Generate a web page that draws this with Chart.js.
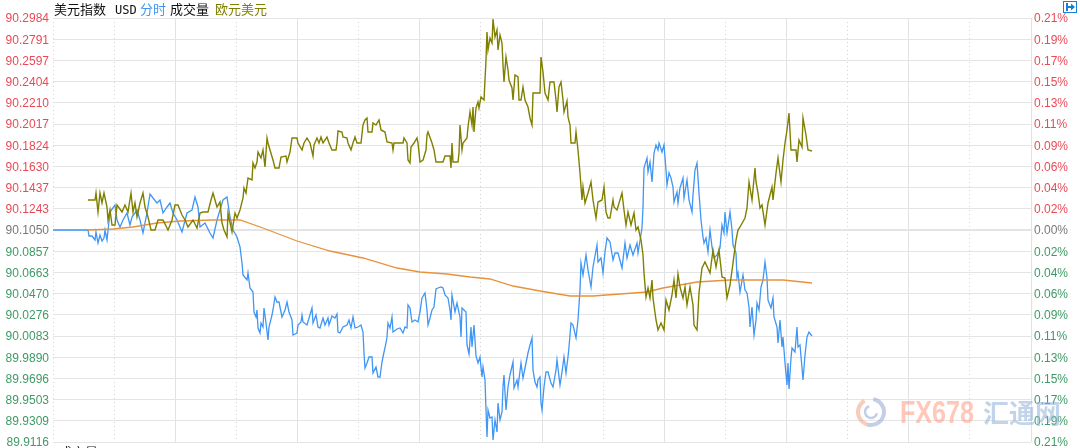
<!DOCTYPE html>
<html>
<head>
<meta charset="utf-8">
<title>美元指数 USD 分时</title>
<script src="https://cdn.jsdelivr.net/npm/chart.js@4/dist/chart.umd.min.js"></script>
<style>
    html, body { margin: 0; padding: 0; background: #fff; overflow: hidden; }
    #wrap { width: 1080px; height: 448px; }
</style>
</head>
<body>
<div id="wrap"><canvas id="usdChart" width="1080" height="448"></canvas></div>
<script>
// values are change from the 90.1050 close, in 0.001% units; times are sample numbers
const leftLabels = ['90.2984', '90.2791', '90.2597', '90.2404', '90.2210', '90.2017', '90.1824', '90.1630', '90.1437', '90.1243', '90.1050',
    '90.0857', '90.0663', '90.0470', '90.0276', '90.0083', '89.9890', '89.9696', '89.9503', '89.9309', '89.9116'];
const rightLabels = ['0.21%', '0.19%', '0.17%', '0.15%', '0.13%', '0.11%', '0.09%', '0.06%', '0.04%', '0.02%', '0.00%',
    '0.02%', '0.04%', '0.06%', '0.09%', '0.11%', '0.13%', '0.15%', '0.17%', '0.19%', '0.21%'];
const headerTexts = ['美元指数', 'USD', '分时', '成交量', '欧元美元'];

const usdTimes = [0,35,36,39,42,43,45,47,49,51,52,54,57,62,64,67,70,74,77,79,84,87,90,94,97,100,104,107,110,114,117,120,124,129,134,139,142,145,147,152,157,160,164,167,170,174,177,180,184,187,189,190,194,195,197,
    200,201,203,204,205,207,208,210,211,213,215,216,219,220,222,224,226,228,229,232,234,236,239,240,244,245,248,249,250,254,259,260,263,265,267,270,272,275,276,279,282,284,285,287,290,294,296,298,300,302,305,308,310,311,312,314,316,319,320,323,325,327,329,330,333,334,335,337,339,340,344,347,350,352,354,355,357,359,362,365,367,369,372,374,375,377,379,381,383,385,388,390,392,395,397,398,399,
    402,404,407,408,409,413,414,416,418,419,421,423,425,427,429,430,432,433,434,435,437,439,440,442,444,445,447,449,450,451,453,455,457,460,461,464,465,468,470,473,475,477,479,480,482,484,485,487,488,489,491,493,495,498,500,503,504,507,509,511,513,515,516,518,520,523,525,527,528,530,533,535,538,540,544,545,548,550,552,554,557,560,562,565,569,572,574,577,580,584,585,589,590,591,594,595,597,599,
    601,603,605,606,609,611,613,614,616,618,620,621,624,625,627,630,631,634,636,639,640,642,644,646,648,650,651,653,655,657,659,661,664,667,669,671,672,674,677,679,680,683,684,685,687,690,692,694,696,697,699,701,703,704,706,708,710,712,714,715,718,720,721,724,725,727,729,730,732,734,735,736,738,739,742,744,745,747,749,750,752,754,756,759];
const usdChange = [0,0,-6,-6,-10,-2,-13,-5,-11,-8,0,-10,18,25,10,3,10,17,5,13,20,10,-3,17,36,32,27,30,17,23,27,17,10,-2,17,20,33,23,3,7,-3,-8,10,20,30,33,13,0,-7,-17,-33,-45,-50,-43,-58,
    -62,-82,-87,-80,-98,-103,-93,-97,-78,-93,-110,-97,-85,-80,-67,-72,-72,-82,-87,-80,-72,-82,-90,-105,-103,-95,-92,-85,-92,-95,-78,-93,-85,-97,-98,-88,-95,-88,-95,-86,-88,-84,-102,-103,-97,-95,-90,-98,-87,-98,-97,-95,-102,-123,-138,-133,-127,-127,-143,-137,-147,-147,-132,-127,-113,-107,-93,-98,-87,-102,-99,-98,-103,-97,-98,-75,-78,-92,-90,-92,-82,-68,-63,-80,-95,-88,-80,-77,-59,-58,-57,-58,-65,-68,-80,-90,-65,
    -82,-73,-87,-107,-78,-82,-115,-124,-97,-117,-95,-126,-133,-127,-147,-137,-150,-180,-207,-180,-188,-187,-210,-190,-202,-173,-190,-182,-157,-145,-180,-157,-145,-132,-158,-150,-157,-133,-148,-133,-123,-115,-108,-140,-152,-157,-150,-147,-173,-180,-157,-142,-142,-153,-157,-140,-130,-155,-142,-127,-143,-127,-117,-93,-95,-108,-90,-60,-33,-45,-25,-40,-57,-37,-15,-32,-28,-43,-22,-8,-12,-30,-23,-23,-38,-13,-28,-15,-25,-13,-23,2,23,62,72,58,68,48,
    77,85,80,87,78,85,60,45,57,52,43,28,38,27,42,52,32,50,30,18,35,60,67,37,10,-7,-13,-8,-22,0,-17,-28,-25,-18,5,-3,18,-3,18,0,-15,-23,-47,-43,-62,-45,-60,-63,-77,-97,-77,-105,-90,-73,-80,-57,-50,-32,-48,-70,-78,-68,-87,-97,-113,-90,-117,-107,-133,-155,-133,-159,-128,-118,-122,-97,-117,-115,-138,-150,-125,-107,-102,-106];

const eurTimes = [35,42,43,45,47,49,51,54,55,57,59,62,64,69,72,75,78,80,82,84,87,90,92,95,98,102,105,110,115,119,122,125,129,132,135,140,144,147,150,155,158,160,164,167,169,171,174,175,179,182,184,187,190,191,193,195,199,
    200,202,204,205,208,210,212,214,215,217,220,222,226,228,233,234,237,239,244,245,249,251,254,257,260,261,264,266,268,270,274,276,279,283,284,285,289,290,294,295,298,300,302,304,308,310,312,314,315,319,320,323,326,328,332,334,339,340,341,350,351,354,355,357,358,361,364,365,367,370,373,374,375,379,381,383,390,392,397,398,399,
    400,405,406,407,409,410,414,415,417,419,420,421,423,425,426,428,431,433,434,435,437,439,440,442,444,445,447,449,450,451,453,455,456,459,460,462,465,466,468,470,472,475,477,479,480,487,488,490,492,495,497,501,503,504,506,508,510,511,514,515,517,518,522,523,525,527,529,530,532,535,538,540,543,545,549,551,553,555,557,560,561,564,569,571,573,575,578,581,583,585,588,590,591,593,595,597,599,
    600,603,605,608,611,613,616,619,621,623,625,627,630,632,634,637,640,641,644,646,649,652,657,660,663,666,669,672,674,677,680,683,685,687,692,694,696,699,702,703,705,707,709,712,715,719,720,723,725,728,730,732,734,736,738,743,744,746,749,750,753,755,759];
const eurChange = [30,30,37,18,37,27,37,23,10,20,5,5,25,18,25,18,37,18,27,13,27,37,23,13,0,0,10,10,0,10,25,25,15,10,3,10,2,17,18,18,30,37,23,28,7,0,-7,17,-2,17,12,20,32,42,37,52,50,
    67,62,68,78,72,80,63,92,87,80,70,62,62,73,74,68,78,92,92,87,80,87,92,87,74,85,92,87,93,87,93,87,80,80,87,99,98,93,92,87,80,87,93,87,87,105,110,112,98,98,107,105,110,100,98,88,87,80,87,87,92,87,70,67,83,87,92,87,68,70,80,95,98,87,80,68,68,74,74,62,87,
    68,68,77,105,80,87,92,103,118,105,123,98,122,128,122,133,130,170,198,180,192,187,211,193,200,180,195,187,165,148,173,160,150,142,130,155,153,130,130,143,130,123,112,105,137,137,173,158,137,130,148,148,130,118,143,148,130,118,129,113,105,87,87,98,80,57,30,43,27,37,48,30,12,28,30,43,18,12,12,30,23,20,37,20,5,18,5,17,0,3,-10,-25,-43,-67,-58,-68,-50,
    -68,-90,-100,-93,-100,-70,-80,-65,-50,-68,-44,-57,-68,-57,-75,-57,-75,-95,-100,-63,-38,-32,-43,-20,-37,-20,-47,-48,-68,-55,-33,-10,0,3,12,22,48,30,62,48,37,22,25,5,27,43,30,57,72,48,70,87,100,117,80,80,68,90,83,112,95,80,79];

const avgTimes = [35,60,80,104,127,160,187,210,244,277,310,344,367,394,417,437,460,487,517,540,567,594,610,644,677,730,759];
const avgChange = [0,1,3,7,9,10,10,2,-11,-21,-28,-38,-42,-44,-47,-49,-56,-61,-66,-66,-64,-62,-58,-52,-50,-50,-53];

const xStep = 61.125;
const xMarks = [0, 1, 2, 3, 4, 5, 6, 7, 8, 9, 10, 11, 12, 13, 14, 15, 16].map(i => i * xStep);
const yMarks = leftLabels.map((_, i) => -212 + i * 21.2);

function toPoints(times, values) {
    return times.map((t, i) => ({ x: t, y: values[i] }));
}
function labelColor(i) {
    if (i > 10) return '#ea4a55';
    if (i === 10) return '#77787c';
    return '#3f9a66';
}
function fitY(s, width) {
    s.width = width;
    s.paddingTop = 0;
    s.paddingBottom = 0;
}

const headerPlugin = {
    id: 'header',
    afterDraw(chart) {
        const ctx = chart.ctx;
        ctx.save();
        ctx.textBaseline = 'alphabetic';
        ctx.font = "13px 'Noto Sans CJK SC'";
        ctx.fillStyle = '#111';
        ctx.fillText(headerTexts[0], 54, 14);
        ctx.fillStyle = '#111';
        ctx.font = "12px 'DejaVu Sans Mono'";
        ctx.fillText(headerTexts[1], 115, 14);
        ctx.font = "13px 'Noto Sans CJK SC'";
        ctx.fillStyle = '#3f96f0';
        ctx.fillText(headerTexts[2], 140, 14);
        ctx.fillStyle = '#111';
        ctx.fillText(headerTexts[3], 170, 14);
        ctx.fillStyle = '#808000';
        ctx.fillText(headerTexts[4], 215, 14);
        // cut off by the window bottom
        ctx.fillStyle = '#111';
        ctx.fillText(headerTexts[3], 59, 457);

        // expand icon top right
        ctx.strokeStyle = '#1a7fd0';
        ctx.lineWidth = 1;
        ctx.strokeRect(1063.5, 1.5, 13, 11);
        ctx.fillStyle = '#1a7fd0';
        ctx.fillRect(1066, 3, 2, 8);
        ctx.fillRect(1068, 6, 4, 2);
        ctx.beginPath();
        ctx.moveTo(1071, 3.5);
        ctx.lineTo(1075, 7);
        ctx.lineTo(1071, 10.5);
        ctx.fill();

        // watermark
        ctx.globalAlpha = 0.55;
        ctx.lineWidth = 4;
        ctx.strokeStyle = '#8fa8d4';
        ctx.beginPath();
        ctx.arc(871, 412, 13, -1.4, 1.9);
        ctx.stroke();
        ctx.strokeStyle = '#f4a080';
        ctx.beginPath();
        ctx.arc(871, 412, 13, 1.9, 4.2);
        ctx.stroke();
        ctx.lineWidth = 2.5;
        ctx.strokeStyle = '#8fa8d4';
        ctx.beginPath();
        ctx.arc(871, 412, 6, 0.2, 4.4);
        ctx.stroke();
        ctx.font = "bold 31px 'Liberation Sans'";
        const fade = ctx.createLinearGradient(900, 0, 974, 0);
        fade.addColorStop(0, '#ffd89a');
        fade.addColorStop(1, '#ff9a80');
        ctx.fillStyle = fade;
        ctx.fillText('FX678', 900, 423, 74);
        ctx.font = "bold 26px 'Noto Sans CJK SC'";
        ctx.fillStyle = '#8fb0d8';
        ctx.fillText('汇通网', 983, 423);
        ctx.restore();
    }
};

new Chart(document.getElementById('usdChart'), {
    type: 'line',
    data: {
        datasets: [
            { label: '欧元美元', data: toPoints(eurTimes, eurChange), borderColor: '#808000', borderWidth: 1.4, tension: 0 },
            { label: '均价', data: toPoints(avgTimes, avgChange), borderColor: '#e8923c', borderWidth: 1.3 },
            { label: '美元指数', data: toPoints(usdTimes, usdChange), borderColor: '#3f96f5', borderWidth: 1.3, tension: 0 }
        ]
    },
    options: {
        responsive: false,
        animation: false,
        devicePixelRatio: 1,
        layout: { padding: { top: 18, bottom: 6, left: 0, right: 0 } },
        elements: { point: { radius: 0 } },
        plugins: { legend: { display: false }, tooltip: { enabled: false } },
        scales: {
            x: {
                type: 'linear',
                min: 0,
                max: 978,
                afterBuildTicks: s => { s.ticks = xMarks.map(v => ({ value: v })); },
                afterFit: s => { s.height = 0; },
                ticks: { display: false },
                border: { display: false, dash: c => (c.index % 2 === 1 || c.index === 0) ? [1, 3] : [] },
                grid: {
                    drawTicks: false,
                    color: c => (c.index % 2 === 1 || c.index === 0) ? '#d4d4d4' : '#e2e2e2'
                }
            },
            y: {
                position: 'left',
                min: -212,
                max: 212,
                afterBuildTicks: s => { s.ticks = yMarks.map(v => ({ value: v })); },
                afterFit: s => fitY(s, 53),
                border: { display: false },
                grid: {
                    drawTicks: false,
                    color: '#e4e4e4',
                    lineWidth: c => c.index === 10 ? 2 : 1
                },
                ticks: {
                    padding: 4,
                    labelOffset: 1,
                    autoSkip: false,
                    maxRotation: 0,
                    font: { family: "'Liberation Sans'", size: 12 },
                    color: c => labelColor(c.index),
                    callback: (v, i) => leftLabels[20 - i]
                }
            },
            yRight: {
                position: 'right',
                display: true,
                min: -212,
                max: 212,
                afterBuildTicks: s => { s.ticks = yMarks.map(v => ({ value: v })); },
                afterFit: s => fitY(s, 49),
                border: { display: false },
                grid: { display: false, drawTicks: false },
                ticks: {
                    padding: 3,
                    labelOffset: 1,
                    autoSkip: false,
                    maxRotation: 0,
                    font: { family: "'Liberation Sans'", size: 12 },
                    color: c => labelColor(c.index),
                    callback: (v, i) => rightLabels[20 - i]
                }
            }
        }
    },
    plugins: [headerPlugin]
});
</script>
</body>
</html>
